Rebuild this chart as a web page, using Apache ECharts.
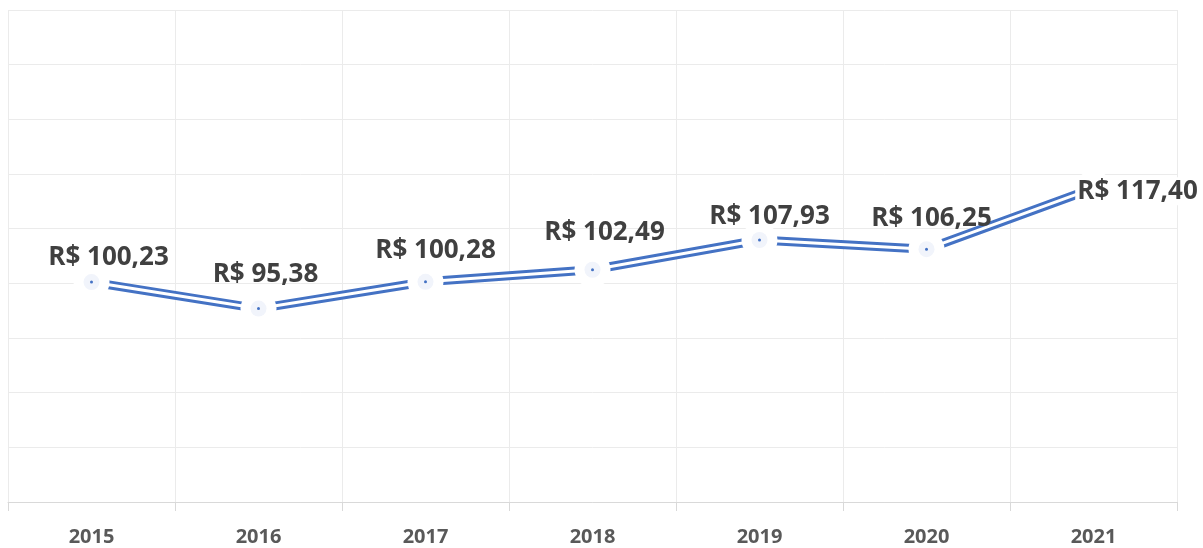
<!DOCTYPE html>
<html>
<head>
<meta charset="utf-8">
<script src="https://cdn.jsdelivr.net/npm/echarts@6/dist/echarts.min.js"></script>
<style>
  html, body { margin: 0; padding: 0; background: #fff; }
  #chart { width: 1203px; height: 548px; }
</style>
</head>
<body>
<div id="chart"></div>
<script>
// data
var years = ['2015', '2016', '2017', '2018', '2019', '2020', '2021'];
var prices = [100.23, 95.38, 100.28, 102.49, 107.93, 106.25, 117.40];

// where each data label sits relative to its point (px)
var labelShift = [[17, -24], [7, -34], [10, -31], [12, -37], [10, -23], [5, -31], [43, 3]];

var BLUE = '#4472C4';
var FONT = '"Open Sans", "Liberation Sans", sans-serif';

function brl(v) {
  return 'R$ ' + v.toFixed(2).replace('.', ',');
}

var chart = echarts.init(document.getElementById('chart'), null, { renderer: 'canvas' });

var dotData = prices.map(function (v, i) {
  var item = {
    value: v,
    label: { offset: labelShift[i] }
  };
  if (i === years.length - 1) {
    item.label.backgroundColor = '#fff';
    item.label.padding = [2, 0, 0, 2];
  }
  return item;
});

var option = {
  animation: false,
  backgroundColor: '#fff',
  grid: { left: 8, right: 26, top: 10, bottom: 46 },
  xAxis: {
    type: 'category',
    data: years,
    boundaryGap: true,
    axisLine: { show: true, lineStyle: { color: '#d9d9d9', width: 1 } },
    axisTick: { show: true, length: 9, lineStyle: { color: '#d9d9d9' } },
    axisLabel: {
      margin: 25, color: '#595959', fontSize: 20, fontWeight: 'bold', fontFamily: FONT
    },
    splitLine: { show: true, lineStyle: { color: '#ebebeb', width: 1 } }
  },
  yAxis: {
    type: 'value',
    min: 60, max: 150, interval: 10,
    axisLine: { show: false },
    axisTick: { show: false },
    axisLabel: { show: false },
    splitLine: { show: true, lineStyle: { color: '#ebebeb', width: 1 } }
  },
  series: [
    {
      // outer blue stroke
      type: 'line', data: prices, z: 2,
      symbol: 'none',
      lineStyle: { color: BLUE, width: 9 }
    },
    {
      // white core that makes it look like a double line,
      // its symbols are the white halos that break the line at each point
      type: 'line', data: prices, z: 3,
      symbol: 'circle', symbolSize: 36, showSymbol: true,
      silent: true,
      lineStyle: { color: '#fff', width: 3 },
      itemStyle: { color: '#fff', borderWidth: 0, opacity: 1 }
    },
    {
      type: 'scatter', data: prices, z: 5,
      symbolSize: 16, silent: true,
      itemStyle: { color: '#f1f4fb', opacity: 1 }
    },
    {
      type: 'scatter', data: dotData, z: 6,
      symbolSize: 3,
      itemStyle: { color: BLUE, opacity: 1 },
      label: {
        show: true,
        position: 'inside',
        formatter: function (p) { return brl(p.value); },
        color: '#404040',
        opacity: 1,
        fontSize: 26,
        fontWeight: 'bold',
        fontFamily: FONT
      }
    }
  ]
};

chart.setOption(option);
</script>
</body>
</html>
